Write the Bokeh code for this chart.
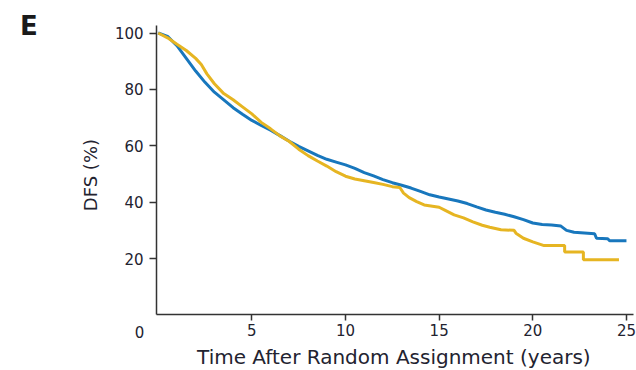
import math
from bokeh.plotting import figure
from bokeh.models import FixedTicker, Label, Range1d
from bokeh.embed import file_html
from bokeh.resources import INLINE

# ---- data ----
blue_t = [0, 0.5, 1.0, 1.5, 2.0, 2.5, 3.0, 3.5, 4.0, 4.5, 5.0, 5.5, 6.0, 6.5, 7.0, 7.5,
          8.0, 8.5, 9.0, 9.5, 10.0, 10.5, 11.0, 11.5, 12.0, 12.5, 13.0, 13.5, 14.0,
          14.5, 15.0, 15.5, 16.0, 16.5, 17.0, 17.5, 18.0, 18.5, 19.0, 19.5, 20.0,
          20.5, 21.0, 21.5, 21.8, 22.2, 23.3, 23.4, 24.0, 24.1, 25.0]
blue_v = [100, 98.8, 95.5, 91, 86.5, 82.5, 79, 76.3, 73.5, 71.2, 69, 67.2, 65.5, 63.6,
          61.6, 59.8, 58.2, 56.6, 55.2, 54.2, 53.2, 52, 50.5, 49.3, 48, 46.9, 46.0, 45,
          43.8, 42.6, 41.8, 41.1, 40.4, 39.5, 38.3, 37.2, 36.4, 35.7, 34.8, 33.8, 32.6,
          32.1, 31.9, 31.5, 30.0, 29.3, 28.8, 27.2, 27.0, 26.3, 26.3]

gold_t = [0, 0.5, 1.0, 1.5, 2.0, 2.3, 2.6, 3.0, 3.5, 4.0, 4.5, 5.0, 5.5, 6.0, 6.5, 7.0,
          7.5, 8.0, 8.5, 9.0, 9.5, 10.0, 10.5, 11.0, 11.5, 12.0, 12.5, 12.9, 13.1,
          13.4, 13.8, 14.2, 15.0, 15.3, 15.8, 16.3, 16.8, 17.3, 17.7, 18.3, 19.0,
          19.1, 19.5, 20.0, 20.6, 21.7, 21.7, 22.7, 22.7, 24.6]
gold_v = [100, 98.3, 96, 93.8, 91, 88.8, 85.5, 82, 78.5, 76.3, 73.8, 71.3, 68.3, 66,
          63.5, 61.5, 58.8, 56.5, 54.6, 52.8, 50.8, 49.2, 48.2, 47.6, 47.0, 46.3, 45.5,
          45.2, 43.2, 41.6, 40.2, 39.0, 38.2, 37.2, 35.5, 34.4, 33.0, 31.8, 31.1, 30.2,
          30.0, 29.0, 27.2, 25.9, 24.6, 24.6, 22.3, 22.3, 19.6, 19.6]

x_ticks = [5, 10, 15, 20, 25]
y_ticks = [20, 40, 60, 80, 100]

BLUE = "#1877bd"
GOLD = "#e6b522"
TXT = "#232330"
FONT = "DejaVu Sans"

# the frame covers the whole canvas; both axes sit at fixed data locations
p = figure(width=636, height=370, output_backend="svg", toolbar_location=None,
           x_range=Range1d(-8.42, 25.536), y_range=Range1d(-19.72, 111.53),
           min_border=0, min_border_left=0, min_border_right=0,
           min_border_top=0, min_border_bottom=0)
p.outline_line_color = None
p.xgrid.visible = False
p.ygrid.visible = False
p.background_fill_color = "white"
p.border_fill_color = "white"

p.line(blue_t, blue_v, line_color=BLUE, line_width=3)
p.line(gold_t, gold_v, line_color=GOLD, line_width=3)

for ax in (p.xaxis[0], p.yaxis[0]):
    ax.axis_line_color = "#333333"
    ax.axis_line_width = 1.5
    ax.major_tick_line_color = "#333333"
    ax.major_tick_line_width = 1.5
    ax.minor_tick_line_color = None
    ax.major_tick_in = 0
    ax.major_label_text_font = FONT
    ax.major_label_text_font_size = "15px"
    ax.major_label_text_color = TXT

p.xaxis.ticker = FixedTicker(ticks=x_ticks)
p.yaxis.ticker = FixedTicker(ticks=y_ticks)
p.xaxis.fixed_location = 0
p.yaxis.fixed_location = -0.09
p.xaxis.bounds = (-0.09, 25.38)
p.yaxis.bounds = (0, 102.66)
p.xaxis.major_tick_out = 6
p.xaxis.major_label_standoff = 3
p.yaxis.major_tick_out = 7
p.yaxis.major_label_standoff = 6

p.add_layout(Label(x=12.58, y=-14.8, text="Time After Random Assignment (years)",
                   text_font=FONT, text_font_size="20px", text_color=TXT,
                   text_align="center", text_baseline="middle"))
p.add_layout(Label(x=-1.0, y=-6.24, text="0", text_font=FONT, text_font_size="15px",
                   text_color=TXT, text_align="center", text_baseline="middle"))
p.add_layout(Label(x=-3.61, y=49.6, text="DFS (%)", angle=math.pi / 2,
                   text_font=FONT, text_font_size="18px", text_color=TXT,
                   text_align="center", text_baseline="middle"))
p.add_layout(Label(x=-7.38, y=102.6, text="E", text_font=FONT, text_font_size="26px",
                   text_font_style="bold", text_color="#1a1a1a",
                   text_align="left", text_baseline="middle"))

open("out.html", "w").write(file_html(p, INLINE))
